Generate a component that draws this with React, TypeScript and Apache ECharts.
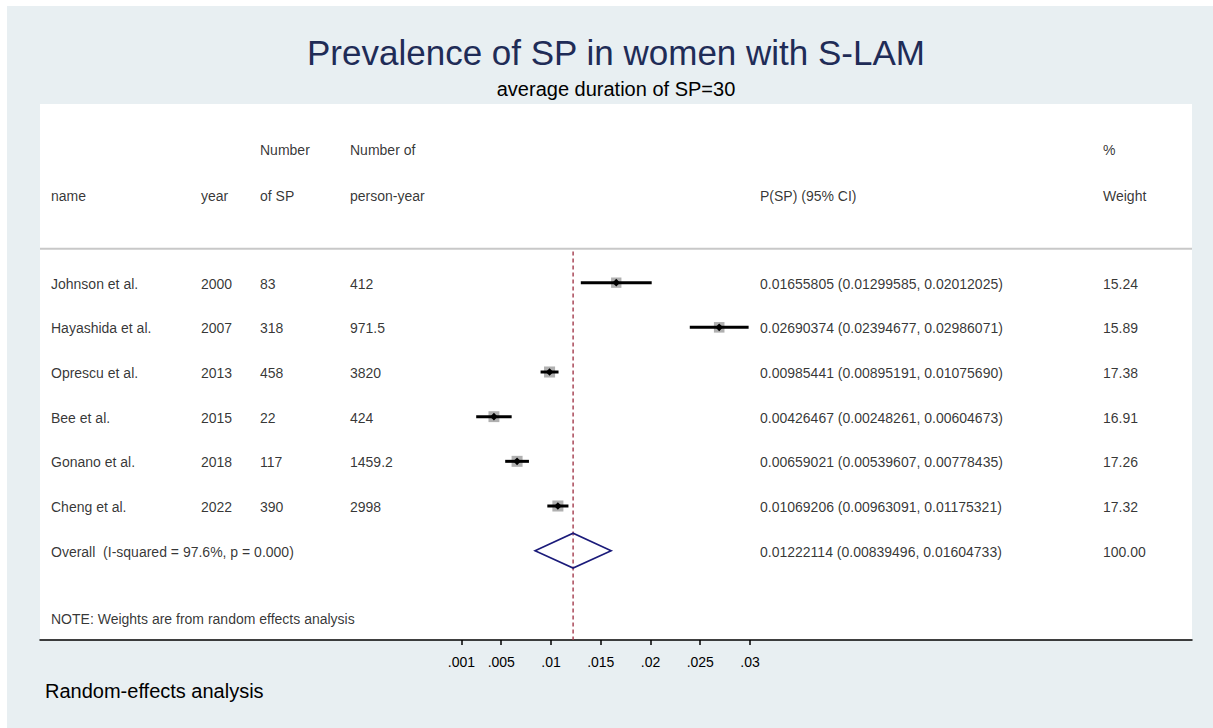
import React, { useEffect, useRef } from "react";
import * as echarts from "echarts";

// ---------- data ----------
const studyNames = ["Johnson et al.", "Hayashida et al.", "Oprescu et al.", "Bee et al.", "Gonano et al.", "Cheng et al."];
const studyYears = [2000, 2007, 2013, 2015, 2018, 2022];
const numberOfSP = [83, 318, 458, 22, 117, 390];
const personYears = ["412", "971.5", "3820", "424", "1459.2", "2998"];
const estimates = [0.01655805, 0.02690374, 0.00985441, 0.00426467, 0.00659021, 0.01069206];
const lowerCI = [0.01299585, 0.02394677, 0.00895191, 0.00248261, 0.00539607, 0.00963091];
const upperCI = [0.02012025, 0.02986071, 0.0107569, 0.00604673, 0.00778435, 0.01175321];
const weights = [15.24, 15.89, 17.38, 16.91, 17.26, 17.32];
const overallLabel = "Overall  (I-squared = 97.6%, p = 0.000)";
const overall = { est: 0.01222114, lo: 0.00839496, hi: 0.01604733, weight: 100.0 };
const tickValues = [0.001, 0.005, 0.01, 0.015, 0.02, 0.025, 0.03];
const headerTop = ["", "", "Number", "Number of", "", "%"];
const headerBottom = ["name", "year", "of SP", "person-year", "P(SP) (95% CI)", "Weight"];
const noteText = "NOTE: Weights are from random effects analysis";
const titleText = "Prevalence of SP in women with S-LAM";
const subtitleText = "average duration of SP=30";
const footText = "Random-effects analysis";

// ---------- layout ----------
const colX = [51, 201, 260, 350, 760, 1103]; // page px columns on hidden axis
const FONT = "'Liberation Sans', Arial, Helvetica, sans-serif";
const ZERO_PX = 451.5;
const PX_PER_UNIT = (750 - 451.5) / 0.03;
const PLOT_L = 40;
const PLOT_R = 1192;

export default function App() {
  const ref = useRef<HTMLDivElement>(null);
  useEffect(() => {
    if (!ref.current) return;
    const chart = echarts.init(ref.current, undefined, { renderer: "svg" });

    const fmt = (v: number) => v.toFixed(8);
    const textItems: any[] = [];
    const addText = (x: number, y: number, t: string) => {
      if (t === "") return;
      textItems.push({ value: [x, y], label: { formatter: t } });
    };
    headerTop.forEach((t, i) => addText(colX[i], -1.96, t));
    headerBottom.forEach((t, i) => addText(colX[i], -0.95, t));
    studyNames.forEach((n, i) => {
      const r = i + 1.02;
      addText(colX[0], r, n);
      addText(colX[1], r, String(studyYears[i]));
      addText(colX[2], r, String(numberOfSP[i]));
      addText(colX[3], r, personYears[i]);
      addText(colX[4], r, `${fmt(estimates[i])} (${fmt(lowerCI[i])}, ${fmt(upperCI[i])})`);
      addText(colX[5], r, weights[i].toFixed(2));
    });
    const oRow = studyNames.length + 1;
    addText(colX[0], oRow + 0.02, overallLabel);
    addText(colX[4], oRow + 0.02, `${fmt(overall.est)} (${fmt(overall.lo)}, ${fmt(overall.hi)})`);
    addText(colX[5], oRow + 0.02, overall.weight.toFixed(2));
    addText(colX[0], 8.52, noteText);

    const studyData = estimates.map((e, i) => [e, lowerCI[i], upperCI[i], i + 1, weights[i]]);

    chart.setOption({
      animation: false,
      backgroundColor: "#e8eff2",
      title: [
        {
          text: titleText,
          left: 609,
          top: 28,
          textAlign: "center",
          padding: 0,
          textStyle: { fontFamily: FONT, fontSize: 35, fontWeight: "normal", color: "#1f2c57", lineHeight: 37 },
        },
        {
          text: subtitleText,
          left: 609,
          top: 72,
          textAlign: "center",
          padding: 0,
          textStyle: { fontFamily: FONT, fontSize: 20, fontWeight: "normal", color: "#000", lineHeight: 22 },
        },
        {
          text: footText,
          left: 38,
          top: 674,
          padding: 0,
          textStyle: { fontFamily: FONT, fontSize: 20, fontWeight: "normal", color: "#000", lineHeight: 22 },
        },
      ],
      grid: {
        left: PLOT_L - 7,
        top: 98,
        width: PLOT_R - PLOT_L,
        height: 536,
        show: true,
        backgroundColor: "#ffffff",
        borderWidth: 0,
      },
      xAxis: [
        {
          type: "value",
          min: -(ZERO_PX - PLOT_L) / PX_PER_UNIT,
          max: (PLOT_R - ZERO_PX) / PX_PER_UNIT,
          splitLine: { show: false },
          axisLine: { show: true, onZero: false, lineStyle: { color: "#000", width: 1.5 } },
          axisTick: { show: true, customValues: tickValues, length: 5, lineStyle: { color: "#000", width: 1.5 } },
          axisLabel: {
            show: true,
            customValues: tickValues,
            margin: 15,
            fontFamily: FONT,
            fontSize: 14,
            color: "#000",
            formatter: (v: number) => String(v).replace(/^0/, ""),
          },
        },
        { type: "value", min: PLOT_L, max: PLOT_R, show: false },
      ],
      yAxis: [{ type: "value", inverse: true, min: -3, max: 9, show: false }],
      series: [
        {
          type: "line",
          xAxisIndex: 1,
          data: [[PLOT_L, 0.24], [PLOT_R, 0.24]],
          symbol: "none",
          silent: true,
          lineStyle: { color: "#c8c8c8", width: 2 },
          z: 1,
        },
        {
          type: "line",
          xAxisIndex: 0,
          data: [[overall.est, 0.3], [overall.est, 9]],
          symbol: "none",
          silent: true,
          lineStyle: { color: "#a33a4c", width: 1.4, type: [4, 3] },
          z: 2,
        },
        {
          type: "custom",
          xAxisIndex: 0,
          data: studyData,
          encode: { x: [0, 1, 2], y: 3 },
          z: 3,
          renderItem: (params: any, api: any) => {
            const r = api.value(3);
            const p = api.coord([api.value(0), r]);
            const l = api.coord([api.value(1), r]);
            const h = api.coord([api.value(2), r]);
            const s = Math.sqrt(api.value(4)) * 2.65;
            const d = 3.8;
            return {
              type: "group",
              children: [
                { type: "rect", shape: { x: p[0] - s / 2, y: p[1] - s / 2, width: s, height: s }, style: { fill: "#b0b0b0" } },
                { type: "line", shape: { x1: l[0], y1: l[1], x2: h[0], y2: h[1] }, style: { stroke: "#000", lineWidth: 3 } },
                {
                  type: "polygon",
                  shape: { points: [[p[0] - d, p[1]], [p[0], p[1] - d], [p[0] + d, p[1]], [p[0], p[1] + d]] },
                  style: { fill: "#000" },
                },
              ],
            };
          },
        },
        {
          type: "custom",
          xAxisIndex: 0,
          data: [[overall.est, overall.lo, overall.hi, oRow]],
          encode: { x: [0, 1, 2], y: 3 },
          z: 4,
          renderItem: (params: any, api: any) => {
            const r = api.value(3);
            const c = api.coord([api.value(0), r]);
            const l = api.coord([api.value(1), r]);
            const h = api.coord([api.value(2), r]);
            const top = api.coord([api.value(0), r - 0.39]);
            const bot = api.coord([api.value(0), r + 0.39]);
            return {
              type: "polygon",
              shape: { points: [[l[0], c[1]], [c[0], top[1]], [h[0], c[1]], [c[0], bot[1]]] },
              style: { fill: "none", stroke: "#1b1b7a", lineWidth: 1.6 },
            };
          },
        },
        {
          type: "scatter",
          xAxisIndex: 1,
          symbolSize: 0,
          silent: true,
          data: textItems,
          z: 5,
          label: {
            show: true,
            position: "right",
            distance: 0,
            fontFamily: FONT,
            fontSize: 14,
            color: "#000",
          },
        },
      ],
    });
    return () => chart.dispose();
  }, []);

  return (
    <div
      ref={ref}
      style={{ position: "absolute", left: 7, top: 6, width: 1206, height: 722 }}
    />
  );
}
